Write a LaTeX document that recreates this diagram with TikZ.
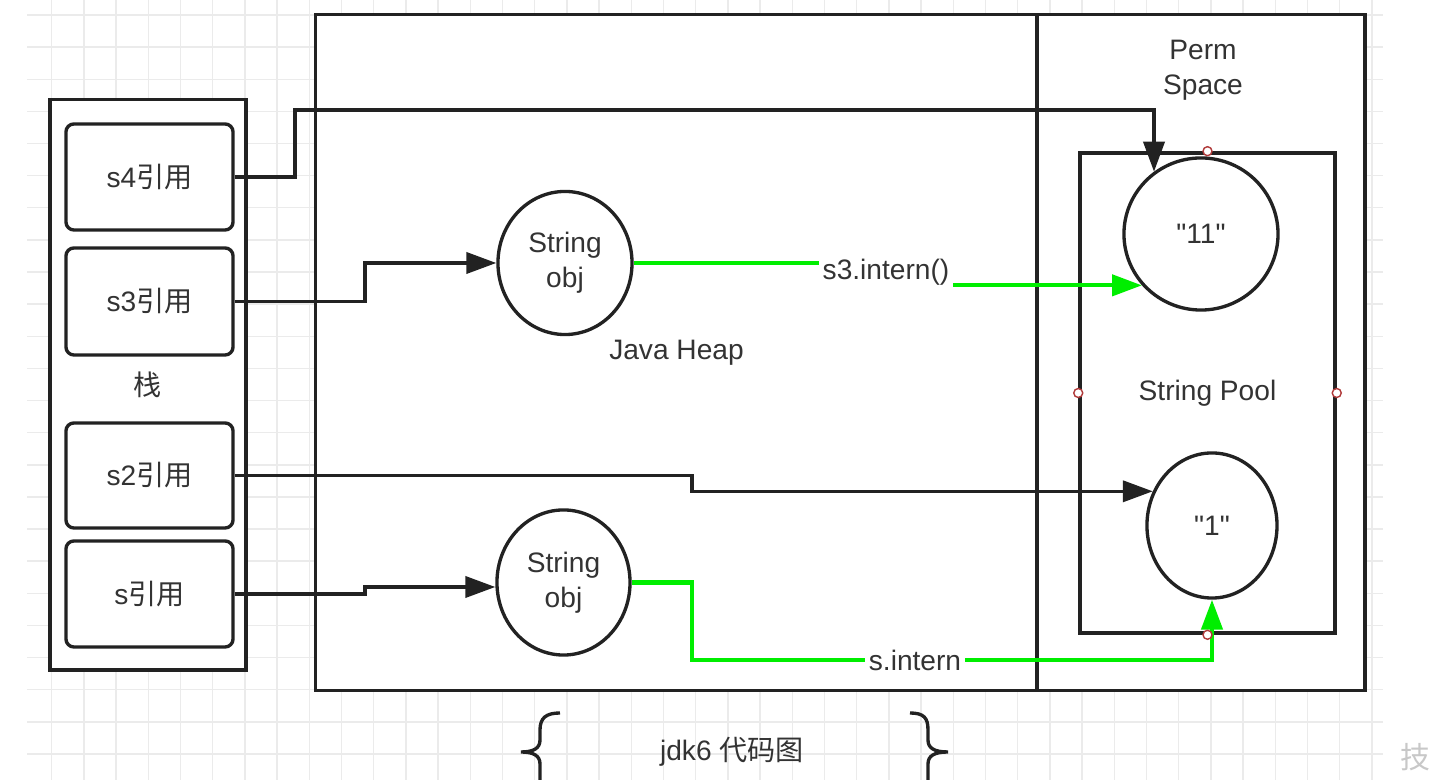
\documentclass[tikz,border=0pt]{standalone}
\usepackage{fontspec}
\setmainfont{Liberation Sans}[Ligatures=TeXOff]
\newfontfamily\cjk{Noto Sans CJK SC}
\definecolor{mInk}{HTML}{222222}
\definecolor{mText}{HTML}{333333}
\definecolor{mGreen}{HTML}{00EE00}
\definecolor{mGrid}{HTML}{EBEBEB}
\definecolor{mPort}{HTML}{B03A3A}
\definecolor{mMark}{HTML}{C8C8C8}
\usetikzlibrary{positioning,arrows.meta,shapes.geometric}

\begin{document}
\begin{tikzpicture}[x=0.01cm, y=-0.01cm, font=\fontsize{8}{10}\selectfont, text=mText,
  gridline/.style={draw=mGrid, line width=0.4pt},
  frame/.style={draw=mInk, fill=white, line width=0.95pt, inner sep=0pt},
  refbox/.style={draw=mInk, fill=white, line width=0.95pt, rounded corners=0.08cm, minimum width=1.67cm, minimum height=1.06cm},
  strobj/.style={ellipse, draw=mInk, fill=white, line width=0.95pt, align=center, inner sep=0pt},
  port/.style={circle, draw=mPort, fill=white, line width=0.4pt, minimum size=0.09cm, inner sep=0pt},
  ref/.style={draw=mInk, line width=0.95pt, -{Triangle[length=8.5pt,width=6pt]}},
  intern/.style={draw=mGreen, line width=1.15pt, -{Triangle[length=8.5pt,width=6pt]}},
  tag/.style={fill=white, inner sep=1pt},
  brace/.style={draw=mInk, line width=0.95pt}]
\useasboundingbox (0,0) rectangle (1432,780);
\clip (0,0) rectangle (1432,780);
\fill[white] (0,0) rectangle (1432,780);
\foreach \i in {0,...,41} \draw[gridline] ({51.7+32.2*\i},0) -- ({51.7+32.2*\i},780);
\foreach \j in {0,...,23} \draw[gridline] (27,{15+32.13*\j}) -- (1383,{15+32.13*\j});

\node[frame, minimum width=1.96cm, minimum height=5.70cm, font=\cjk\fontsize{8}{10}\selectfont] (stack) at (148,385) {栈};
\node[refbox] (s4) at (149.5,177) {s4{\cjk 引用}};
\node[refbox, minimum height=1.07cm] (s3) at (149.5,301.5) {s3{\cjk 引用}};
\node[refbox, minimum height=1.05cm] (s2) at (149.5,475.5) {s2{\cjk 引用}};
\node[refbox] (s) at (149.5,594) {s{\cjk 引用}};

\node[frame, minimum width=7.21cm, minimum height=6.75cm] (heap) at (676.5,352.5) {Java Heap};
\node[frame, minimum width=3.28cm, minimum height=6.75cm] (perm) at (1201,352.5) {};
\node[align=center] (permlbl) at (1203,70) {Perm\\Space};
\node[frame, minimum width=2.55cm, minimum height=4.80cm] (pool) at (1207.5,393) {String Pool};

\node[strobj, minimum width=1.34cm, minimum height=1.43cm] (obj3) at (565,263) {String\\obj};
\node[strobj, minimum width=1.33cm, minimum height=1.45cm] (obj) at (563.5,582.5) {String\\obj};
\node[strobj, minimum width=1.54cm, minimum height=1.52cm] (v11) at (1201,234) {"11"};
\node[strobj, minimum width=1.30cm, minimum height=1.45cm] (v1) at (1212,525.5) {"1"};

\draw[ref] (s4.east) -| (295,110) -| (v11.127);
\draw[ref] (s3.east) -| (365,263) -- (obj3.west);
\draw[ref] (s2.east) -| (v1.150 -| 692,0) -- (v1.150);
\draw[ref] (s.east) -| (365,587) -- (obj.west |- 365,587);

\draw[intern] (obj3.east) -- (880,263) -- (v11.221 -| 880,0) -- (v11.221);
\node[tag] (tag3) at (886,272) {s3.intern()};
\draw[intern] (obj.east) -| (692,660) -| (v1.south);
\node[tag] (tags) at (915,660) {s.intern};

\foreach \a in {north,south,east,west} \node[port] (port-\a) at (pool.\a) {};

\draw[brace] (560,713) .. controls (546,713) and (540,718) .. (540,730) -- (540,740) .. controls (540,748) and (534,752) .. (521,752) .. controls (534,752) and (540,756) .. (540,764) -- (540,790);
\draw[brace] (910,713) .. controls (924,713) and (928,718) .. (928,730) -- (928,740) .. controls (928,748) and (934,752) .. (948,752) .. controls (934,752) and (928,756) .. (928,764) -- (928,790);
\node (caption) at (732,752) {jdk6 {\cjk 代码图}};
\node[text=mMark, font=\cjk\fontsize{8.5}{10}\selectfont] (mark) at (1415,757) {技};
\end{tikzpicture}
\end{document}
